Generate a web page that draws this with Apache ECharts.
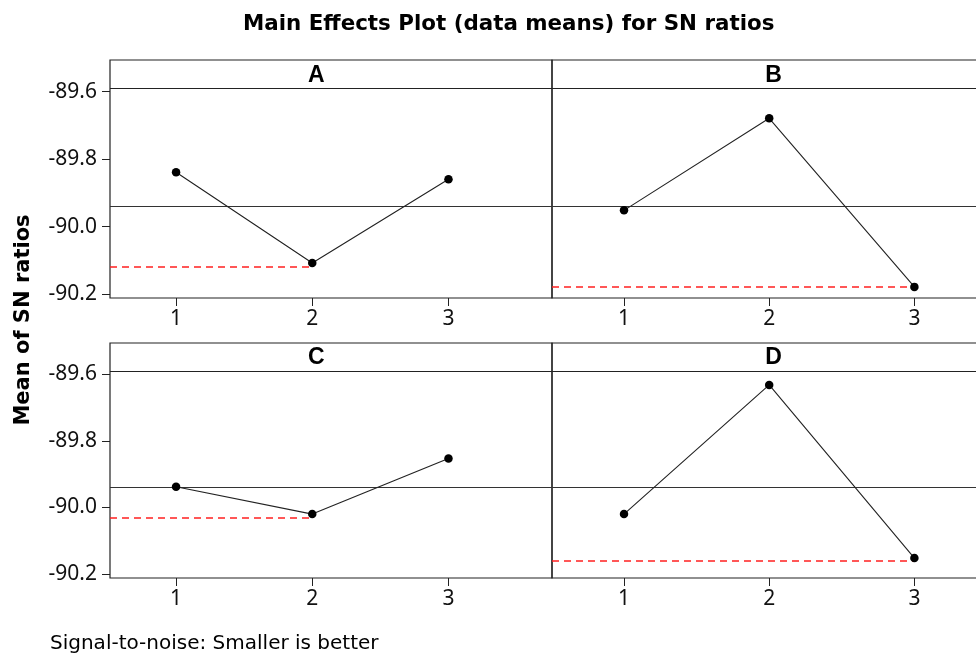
<!DOCTYPE html>
<html>
<head>
<meta charset="utf-8">
<script src="https://cdn.jsdelivr.net/npm/echarts@6/dist/echarts.min.js"></script>
<style>
  html, body { margin: 0; padding: 0; background: #fff; }
  #chart { width: 976px; height: 657px; }
</style>
</head>
<body>
<div id="chart"></div>
<script>
// factor levels on the x axis
var levels = [1, 2, 3]
var panelNames = ['A', 'B', 'C', 'D']

// mean of SN ratios per level
var snA = [-89.839, -90.108, -89.860]
var snB = [-89.952, -89.679, -90.179]
var snC = [-89.938, -90.020, -89.853]
var snD = [-90.020, -89.632, -90.152]

// grand mean (solid line) and red dashed reference per panel
var grandMean = -89.937
var refLevels = [-90.118, -90.179, -90.031, -90.161]

// y tick labels
var yTicks = [-90.2, -90.0, -89.8, -89.6]

var panelData = [snA, snB, snC, snD]

var chart = echarts.init(document.getElementById('chart'))

var FONT = 'DejaVu Sans'
var TICK_FONT = 'Noto Sans'
var Y_MIN = -90.212
var Y_MAX = -89.506
var HEADER_LINE = -89.592
var HEADER_TEXT = -89.551

// panel boxes (A, B top row; C, D bottom row) - right column runs past the edge
var grids = [
  { left: 110, top: 60, width: 442, height: 238 },
  { left: 552, top: 60, width: 435, height: 238 },
  { left: 110, top: 343, width: 442, height: 235 },
  { left: 552, top: 343, width: 435, height: 235 }
]
var xRanges = [[0.515, 3.76], [0.504, 3.5], [0.515, 3.76], [0.504, 3.5]]

var xAxes = [], yAxes = [], series = []

grids.forEach(function (g) {
  g.show = true
  g.borderColor = '#222'
  g.borderWidth = 1.2
  g.backgroundColor = 'transparent'
  g.containLabel = false
  g.outerBoundsMode = 'none'
})

panelData.forEach(function (vals, i) {
  var leftCol = (i % 2 === 0)
  xAxes.push({
    type: 'value',
    gridIndex: i,
    min: xRanges[i][0],
    max: xRanges[i][1],
    axisLine: { show: false },
    splitLine: { show: false },
    axisTick: { show: true, length: 8, customValues: levels, lineStyle: { color: '#222' } },
    axisLabel: {
      customValues: levels,
      color: '#111',
      fontFamily: TICK_FONT,
      fontSize: 21,
      margin: 11
    }
  })
  yAxes.push({
    type: 'value',
    gridIndex: i,
    min: Y_MIN,
    max: Y_MAX,
    axisLine: { show: false },
    splitLine: { show: false },
    axisTick: { show: leftCol, length: 8, customValues: yTicks, lineStyle: { color: '#222' } },
    axisLabel: {
      show: leftCol,
      customValues: yTicks,
      color: '#111',
      fontFamily: TICK_FONT,
      fontSize: 21,
      margin: 13,
      formatter: function (v) { return v.toFixed(1) }
    }
  })

  // lowest level -> red dashed line runs from the left edge to that point
  var minIdx = vals.indexOf(Math.min.apply(null, vals))

  series.push({
    type: 'line',
    xAxisIndex: i,
    yAxisIndex: i,
    data: levels.map(function (l, k) { return [l, vals[k]] }),
    symbol: 'circle',
    symbolSize: 8.5,
    lineStyle: { color: '#222', width: 1.1 },
    itemStyle: { color: '#000' },
    z: 5,
    markLine: {
      silent: true,
      symbol: 'none',
      label: { show: false },
      animation: false,
      data: [
        { yAxis: HEADER_LINE, lineStyle: { color: '#222', width: 1.2, type: 'solid' } },
        { yAxis: grandMean, lineStyle: { color: '#333', width: 1, type: 'solid' } },
        [
          { coord: [xRanges[i][0], refLevels[i]], lineStyle: { color: '#ff2020', width: 1.5, type: [7, 5] } },
          { coord: [levels[minIdx], refLevels[i]] }
        ]
      ]
    },
    markPoint: {
      silent: true,
      symbol: 'circle',
      symbolSize: 0,
      animation: false,
      label: {
        show: true,
        position: 'inside',
        formatter: panelNames[i],
        color: '#000',
        fontFamily: 'Liberation Sans',
        fontWeight: 'bold',
        fontSize: 23
      },
      data: [{ coord: [2.03, HEADER_TEXT] }]
    }
  })
})

chart.setOption({
  animation: false,
  backgroundColor: '#fff',
  title: [
    {
      text: 'Main Effects Plot (data means) for SN ratios',
      left: 238,
      top: 9,
      textStyle: { fontFamily: FONT, fontWeight: 'bold', fontSize: 21.4, color: '#000' }
    },
    {
      text: 'Signal-to-noise: Smaller is better',
      left: 45,
      top: 629,
      textStyle: { fontFamily: FONT, fontWeight: 'normal', fontSize: 20, color: '#000' }
    }
  ],
  graphic: [
    {
      type: 'text',
      x: 24,
      y: 320,
      rotation: Math.PI / 2,
      style: {
        text: 'Mean of SN ratios',
        fontFamily: FONT,
        fontWeight: 'bold',
        fontSize: 21,
        fill: '#000',
        align: 'center',
        verticalAlign: 'middle'
      }
    }
  ],
  grid: grids,
  xAxis: xAxes,
  yAxis: yAxes,
  series: series
})
</script>
</body>
</html>
